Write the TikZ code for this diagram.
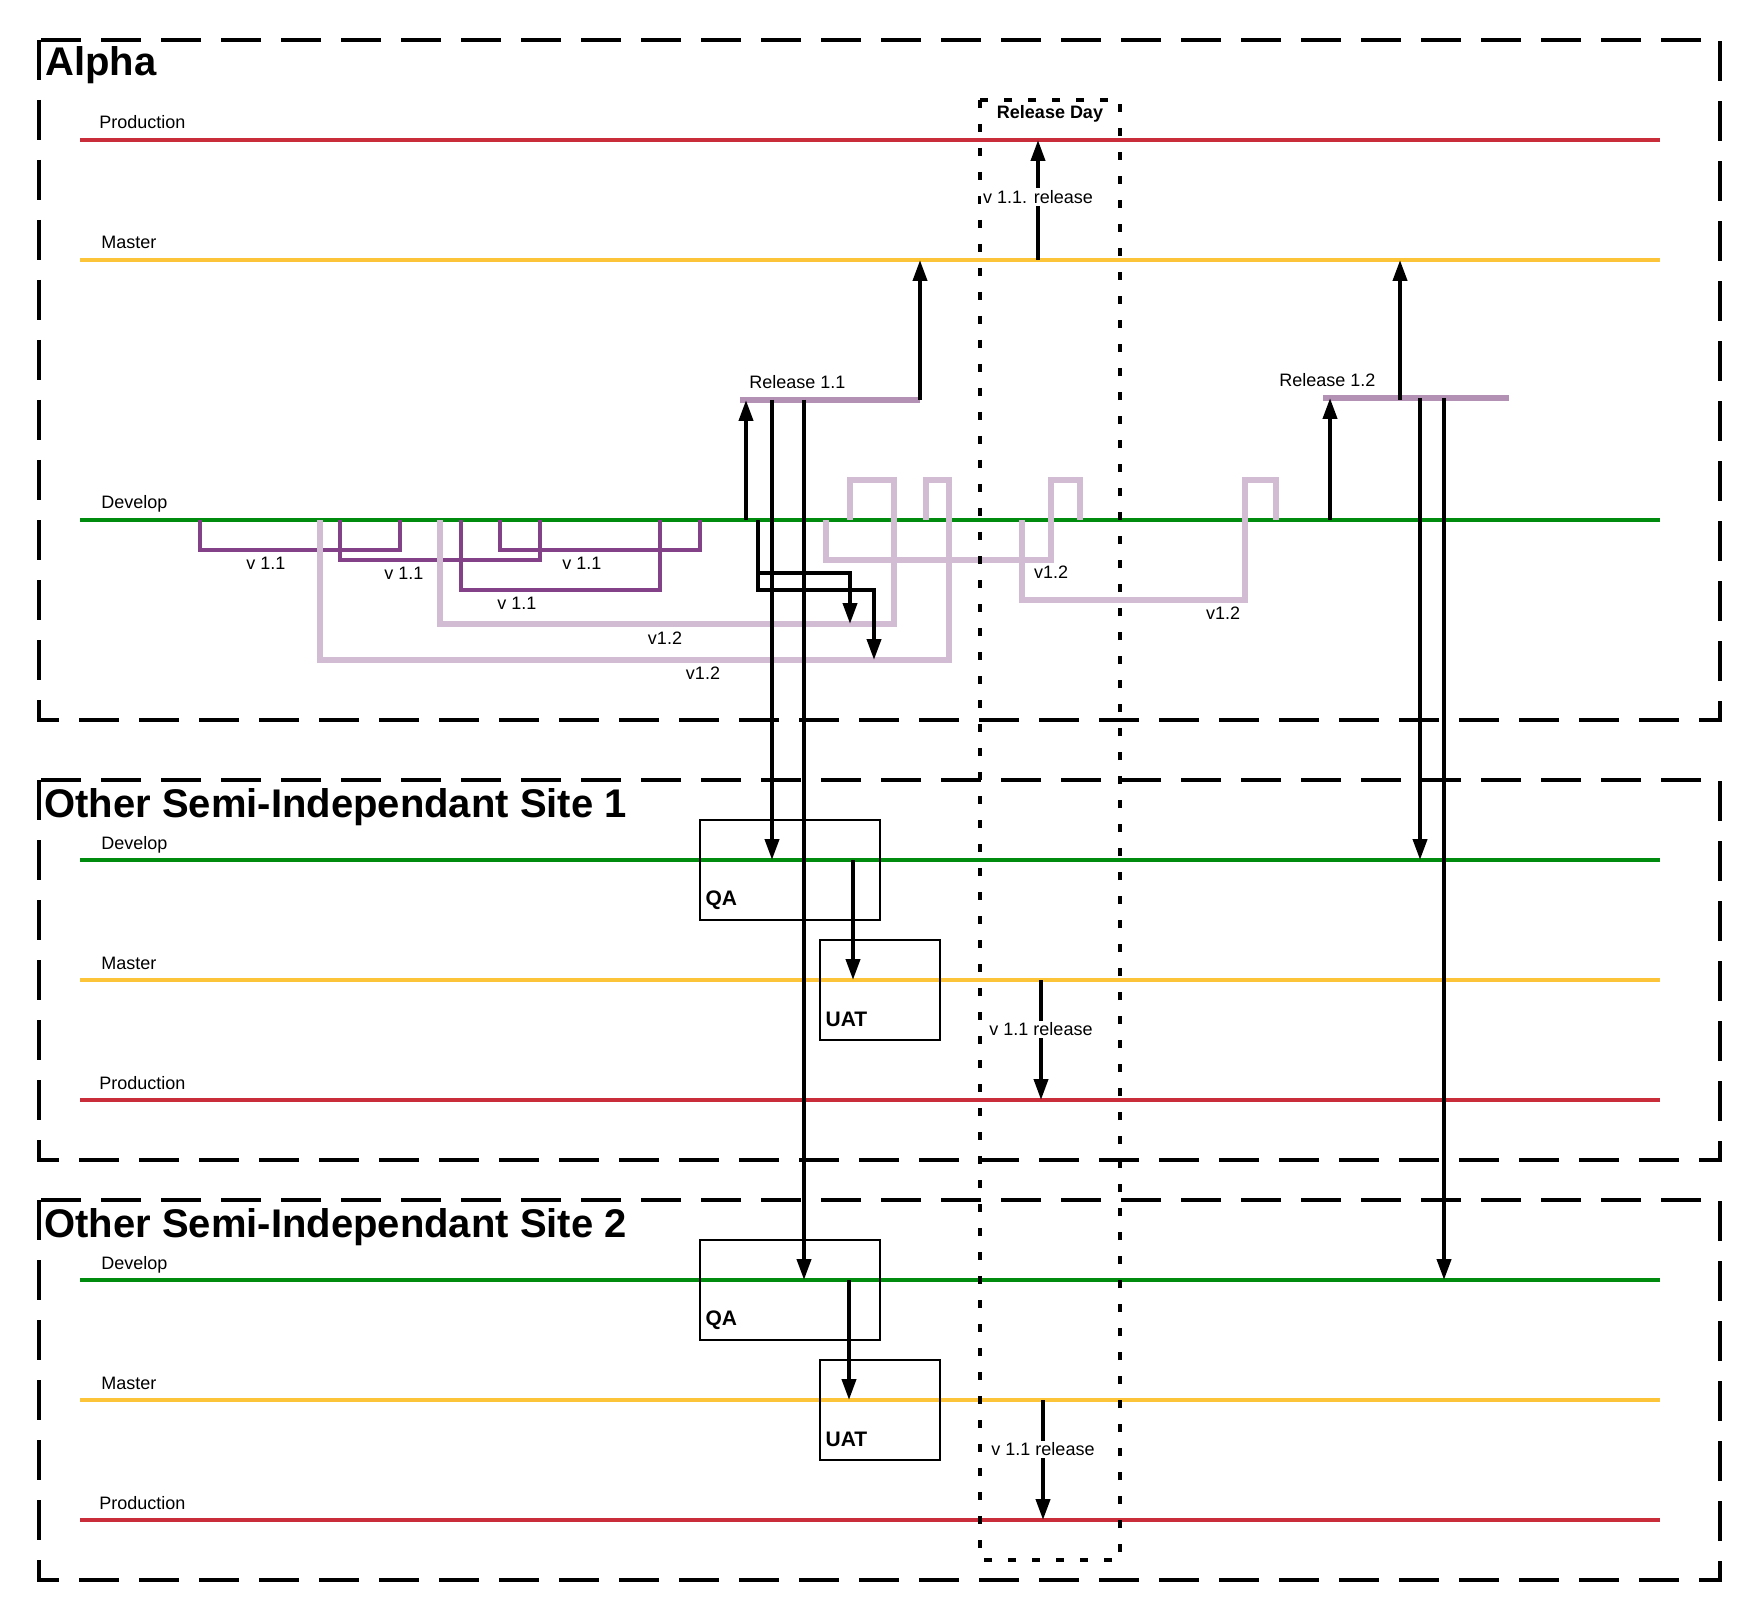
\documentclass[tikz,border=0pt]{standalone}
\usepackage{fontspec}
\setmainfont{Liberation Sans}
\usepackage{tikz}
\usetikzlibrary{arrows.meta,positioning,calc}
\usepackage{xcolor}
\definecolor{gitRed}{RGB}{201,45,57}
\definecolor{gitYellow}{RGB}{252,196,56}
\definecolor{gitGreen}{RGB}{0,138,14}
\definecolor{gitPurple}{RGB}{131,65,135}
\definecolor{gitLilac}{RGB}{210,188,211}
\definecolor{gitMauve}{RGB}{179,145,181}
\newcommand{\lblfont}{\fontsize{9}{11}\selectfont}
\newcommand{\stagefont}{\fontsize{10.5}{12}\selectfont\bfseries}
\newcommand{\titlefont}{\fontsize{20}{24}\selectfont\bfseries}
\tikzset{
  sitebox/.style={draw, line width=1.8pt, dash pattern=on 20pt off 10pt},
  daybox/.style={draw, line width=1.8pt, dash pattern=on 4pt off 8pt},
  prodline/.style={gitRed, line width=1.8pt},
  masterline/.style={gitYellow, line width=1.8pt},
  devline/.style={gitGreen, line width=1.8pt},
  featold/.style={gitPurple, line width=1.7pt},
  featnew/.style={gitLilac, line width=2.7pt},
  relbar/.style={gitMauve, line width=2.7pt},
  arr/.style={line width=2pt, -{Triangle[length=10.5pt, width=7pt]}},
  qabox/.style={draw, line width=0.8pt, minimum width=90pt, minimum height=50pt},
  uatbox/.style={draw, line width=0.8pt, minimum width=60pt, minimum height=50pt},
  stagelbl/.style={anchor=base west, font=\stagefont},
  branchlbl/.style={anchor=base west, font=\lblfont},
  titlelbl/.style={anchor=base west, font=\titlefont},
  smalllbl/.style={font=\lblfont}
}

\begin{document}
\begin{tikzpicture}[x=0.5pt, y=-0.5pt, every node/.style={inner sep=0pt}]
  \useasboundingbox (0,0) rectangle (1760,1620);
  % Site frames
  \draw[sitebox] (39,40) rectangle (1720,720);
  \draw[sitebox] (39,780) rectangle (1720,1160);
  \draw[sitebox] (39,1200) rectangle (1720,1580);
  \node[titlelbl] (alpha) at (45,76) {Alpha};
  \node[titlelbl] (site1) at (44,817) {Other Semi-Independant Site 1};
  \node[titlelbl] (site2) at (44,1237) {Other Semi-Independant Site 2};

  % Alpha branches
  \draw[prodline] (80,140) -- (1660,140);
  \draw[masterline] (80,260) -- (1660,260);
  \draw[devline] (80,520) -- (1660,520);
  \node[branchlbl] (aprod) at (99,129) {Production};
  \node[branchlbl] (amaster) at (101,249) {Master};
  \node[branchlbl] (adev) at (101,509) {Develop};

  % Site 1 branches
  \draw[devline] (80,860) -- (1660,860);
  \draw[masterline] (80,980) -- (1660,980);
  \draw[prodline] (80,1100) -- (1660,1100);
  \node[branchlbl] (s1dev) at (101,849) {Develop};
  \node[branchlbl] (s1master) at (101,969) {Master};
  \node[branchlbl] (s1prod) at (99,1089) {Production};

  % Site 2 branches
  \draw[devline] (80,1280) -- (1660,1280);
  \draw[masterline] (80,1400) -- (1660,1400);
  \draw[prodline] (80,1520) -- (1660,1520);
  \node[branchlbl] (s2dev) at (101,1269) {Develop};
  \node[branchlbl] (s2master) at (101,1389) {Master};
  \node[branchlbl] (s2prod) at (99,1509) {Production};

  % Feature branches v 1.1
  \draw[featold] (200,520) |- (400,550) -- (400,520);
  \draw[featold] (340,520) |- (540,560) -- (540,520);
  \draw[featold] (461,520) |- (660,590) -- (660,520);
  \draw[featold] (500,520) |- (700,550) -- (700,520);
  \node[smalllbl] (f1) at (266,563) {v 1.1};
  \node[smalllbl] (f2) at (404,573) {v 1.1};
  \node[smalllbl] (f3) at (517,603) {v 1.1};
  \node[smalllbl] (f4) at (582,563) {v 1.1};

  % Feature branches v1.2
  \draw[featnew] (320,520) |- (949,660) -- (949,480) -| (926,520);
  \draw[featnew] (440,520) |- (894,624) -- (894,480) -| (850,520);
  \draw[featnew] (826,520) |- (1051,560) -- (1051,480) -| (1080,520);
  \draw[featnew] (1022,520) |- (1245,600) -- (1245,480) -| (1276,520);
  \node[smalllbl] (g1) at (665,638) {v1.2};
  \node[smalllbl] (g2) at (703,673) {v1.2};
  \node[smalllbl] (g3) at (1051,572) {v1.2};
  \node[smalllbl] (g4) at (1223,613) {v1.2};

  % Release branches
  \draw[relbar] (740,400) -- (920,400);
  \draw[relbar] (1323,398) -- (1509,398);
  \node[branchlbl] (rel11) at (749,389) {Release 1.1};
  \node[branchlbl] (rel12) at (1279,387) {Release 1.2};

  % QA / UAT
  \node[qabox] (qa1) at (790,870) {};
  \node[uatbox] (uat1) at (880,990) {};
  \node[qabox] (qa2) at (790,1290) {};
  \node[uatbox] (uat2) at (880,1410) {};
  \node[stagelbl] (qa1t) at ($(qa1.south west)+(6,-15)$) {QA};
  \node[stagelbl] (uat1t) at ($(uat1.south west)+(6,-14)$) {UAT};
  \node[stagelbl] (qa2t) at ($(qa2.south west)+(6,-15)$) {QA};
  \node[stagelbl] (uat2t) at ($(uat2.south west)+(6,-14)$) {UAT};

  % Release day
  \draw[daybox] (980,100) rectangle (1120,1560);
  \node[smalllbl, anchor=base, font=\lblfont\bfseries] (relday) at (1050,119) {Release Day};

  % Arrow ends
  \coordinate (d11) at (746,520);  \coordinate (r11in) at (746,400);
  \coordinate (r11up) at (920,400); \coordinate (m11) at (920,260);
  \coordinate (rdm) at (1038,260); \coordinate (rdp) at (1038,140);
  \coordinate (r11a) at (772,400); \coordinate (s1d11) at (772,860);
  \coordinate (r11b) at (804,400); \coordinate (s2d11) at (804,1280);
  \coordinate (dmerge) at (758,520);
  \coordinate (mA) at (850,573);   \coordinate (gA) at (850,624);
  \coordinate (mB) at (874,590);   \coordinate (gB) at (874,660);
  \coordinate (d12) at (1330,520); \coordinate (r12in) at (1330,398);
  \coordinate (r12up) at (1400,400); \coordinate (m12) at (1400,260);
  \coordinate (r12a) at (1420,398); \coordinate (s1d12) at (1420,860);
  \coordinate (r12b) at (1444,398); \coordinate (s2d12) at (1444,1280);
  \coordinate (s1qa) at (853,860);  \coordinate (s1uat) at (853,980);
  \coordinate (s1m) at (1041,980);  \coordinate (s1p) at (1041,1100);
  \coordinate (s2qa) at (849,1280); \coordinate (s2uat) at (849,1400);
  \coordinate (s2m) at (1043,1400); \coordinate (s2p) at (1043,1520);

  % Arrows
  \draw[arr] (d11) -- (r11in);
  \draw[arr] (r11up) -- (m11);
  \draw[arr] (rdm) -- node[pos=0.525, fill=white, inner sep=1pt, font=\lblfont] (rdlbl) {v 1.1. release} (rdp);
  \draw[arr] (r11a) -- (s1d11);
  \draw[arr] (r11b) -- (s2d11);
  \draw[arr] (dmerge) |- (mA) -- (gA);
  \draw[arr] (dmerge) |- (mB) -- (gB);
  \draw[arr] (d12) -- (r12in);
  \draw[arr] (r12up) -- (m12);
  \draw[arr] (r12a) -- (s1d12);
  \draw[arr] (r12b) -- (s2d12);
  \draw[arr] (s1qa) -- (s1uat);
  \draw[arr] (s1m) -- node[pos=0.41, fill=white, inner sep=1pt, font=\lblfont] (s1lbl) {v 1.1 release} (s1p);
  \draw[arr] (s2qa) -- (s2uat);
  \draw[arr] (s2m) -- node[pos=0.41, fill=white, inner sep=1pt, font=\lblfont] (s2lbl) {v 1.1 release} (s2p);
\end{tikzpicture}
\end{document}
